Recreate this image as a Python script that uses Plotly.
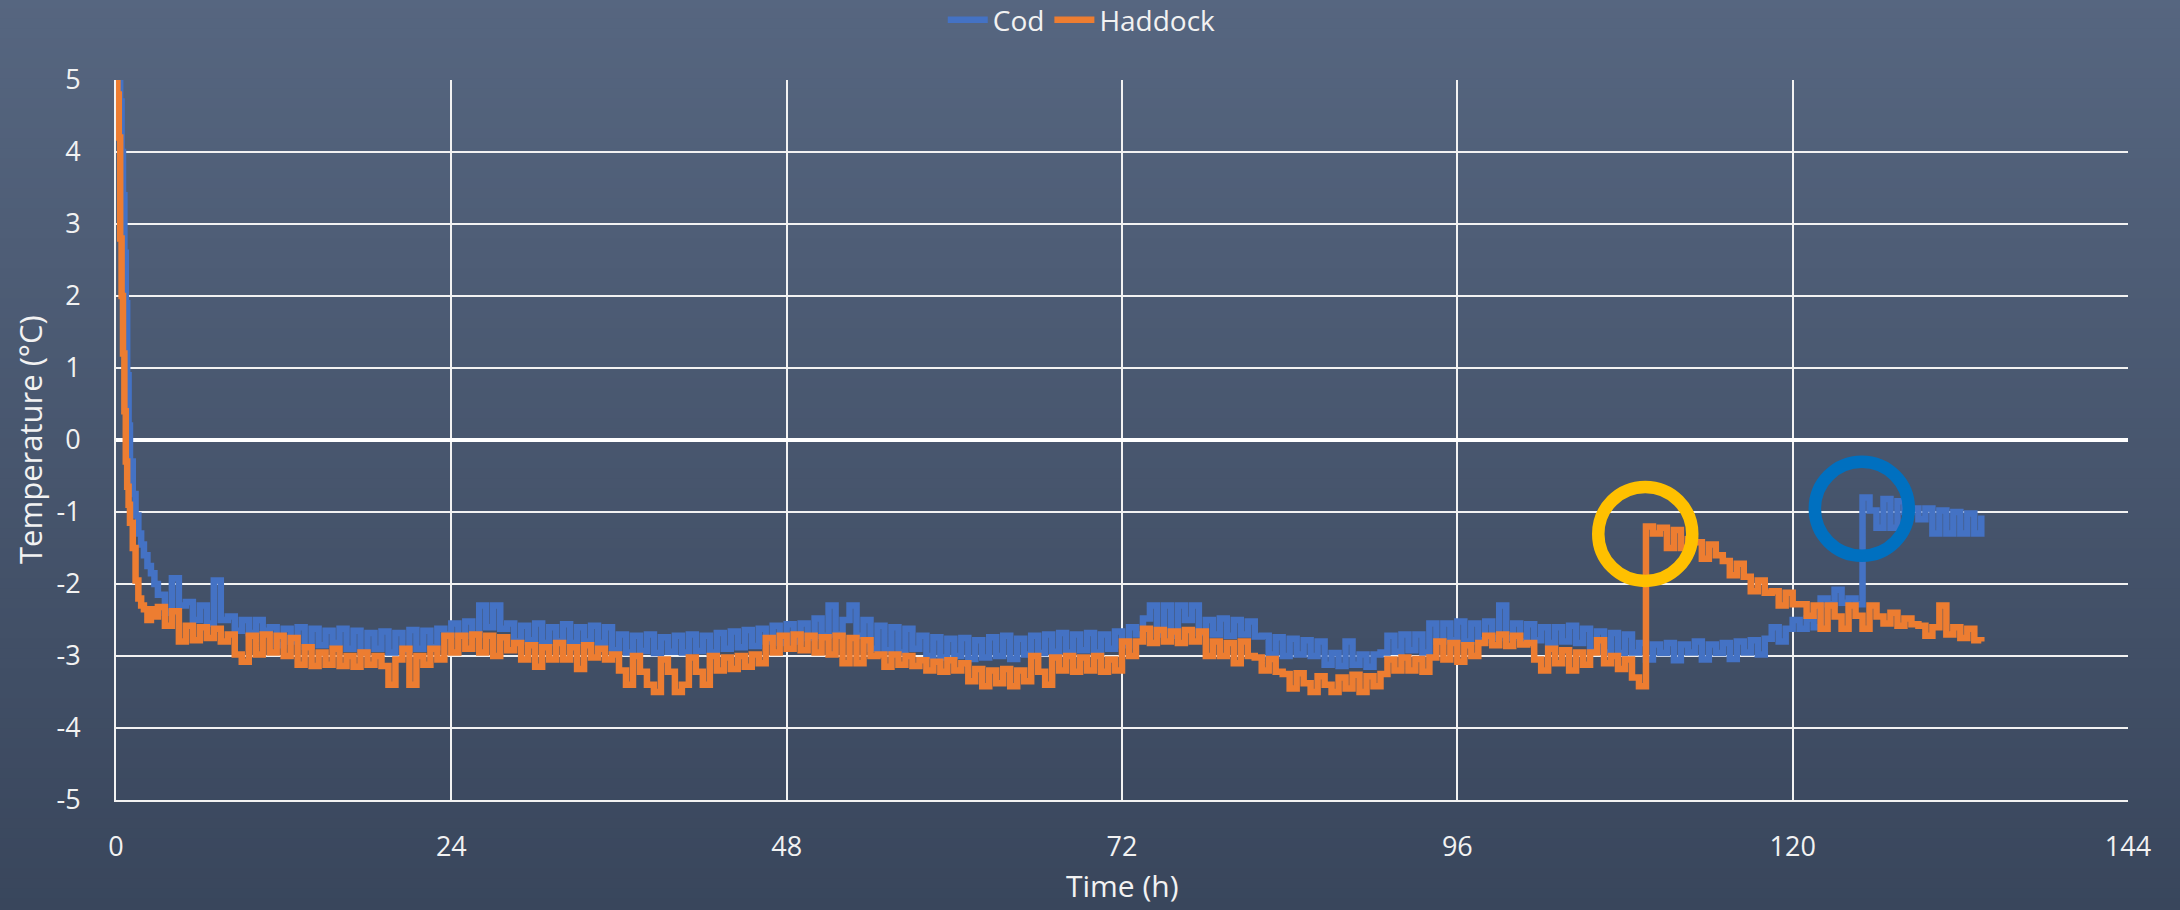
import plotly.graph_objects as go

# ---- logged data -------------------------------------------------------
# fine sampling through the initial pull-down, then half-hour readings
hours_head = [0.0, 0.1, 0.2, 0.3, 0.4, 0.5, 0.6, 0.7, 0.8, 0.9, 1.0,
              1.2, 1.4, 1.6, 1.8, 2.0, 2.25, 2.5, 2.75]
hours_logged = [3.0 + 0.5 * i for i in range(262)]
hours = hours_head + hours_logged

cod_head = [5.3, 5.2, 5.05, 4.7, 4.0, 3.4, 2.6, 1.9, 0.9, 0.2, -0.3,
            -0.75, -1.05, -1.3, -1.45, -1.6, -1.75, -1.85, -2.0]
cod_logged = [
    -2.15, -2.4, -1.92, -2.3,                                   # 3.0-4.5
    -2.25, -2.5, -2.3, -2.55, -1.95, -2.5,                      # 5.0-7.5
    -2.45, -2.65, -2.5, -2.68, -2.5, -2.65,                     # 8.0-10.5
    -2.6, -2.85, -2.62, -2.8, -2.6, -2.87, -2.62, -2.85, -2.65, -2.82, -2.62,
    -2.9, -2.65, -2.95, -2.68, -2.9, -2.66, -2.95, -2.68, -2.92, -2.64, -2.9,
    -2.65, -2.88, -2.62,
    -2.7, -2.55, -2.72, -2.52, -2.7,                            # 23.5-25.5
    -2.3, -2.6, -2.3, -2.62,                                    # 26-27.5
    -2.55, -2.8, -2.58, -2.78, -2.55, -2.82, -2.6, -2.8, -2.56, -2.82, -2.6,
    -2.8, -2.58, -2.82, -2.6,
    -2.92, -2.7, -2.95, -2.72, -2.93, -2.7, -2.96, -2.74, -2.94, -2.72, -2.95,
    -2.7, -2.93, -2.72, -2.95, -2.68, -2.9, -2.66, -2.88, -2.64, -2.86, -2.62,
    -2.8,
    -2.58, -2.82, -2.56, -2.8, -2.55,                           # 47-49
    -2.75, -2.48, -2.72, -2.3, -2.7, -2.5, -2.3, -2.72, -2.5,   # 49.5-53.5
    -2.9, -2.58, -2.92, -2.6, -2.95, -2.62, -2.9,               # 54-57
    -2.72, -3.0, -2.74, -3.02, -2.76, -3.0, -2.75, -3.04, -2.78, -3.02, -2.74,
    -3.0, -2.72, -3.04, -2.76, -2.98, -2.72, -2.96, -2.7,
    -2.94, -2.68, -2.95, -2.7, -2.92, -2.68, -2.95, -2.7, -2.9, -2.66,
    -2.85, -2.6,                                                # 72-72.5
    -2.7, -2.48, -2.3, -2.7, -2.3, -2.72, -2.3, -2.5, -2.3, -2.68, -2.5, -2.7,
    -2.48, -2.72, -2.5, -2.7, -2.52, -2.73,
    -2.72, -2.98, -2.74, -3.0, -2.76, -2.98, -2.78, -3.0, -2.8,  # 82-86
    -3.12, -2.96, -3.14, -2.8, -3.12, -2.98, -3.15, -2.98,      # 86.5-90
    -2.95, -2.72, -2.94, -2.7, -2.92, -2.7, -2.95,              # 90.5-93.5
    -2.55, -2.8, -2.55, -2.78, -2.52, -2.8, -2.55, -2.78, -2.52, -2.75, -2.3,
    -2.75, -2.55, -2.8, -2.56, -2.78, -2.6, -2.82, -2.6, -2.8, -2.58, -2.82,
    -2.62,
    -2.94, -2.66, -2.95, -2.68, -2.96, -2.7,                    # 105.5-108
    -2.95, -2.82, -3.05, -2.84, -2.96, -2.82, -3.06, -2.84, -2.95, -2.8,
    -3.05, -2.84, -2.96, -2.82, -3.04, -2.8, -2.95, -2.78, -2.98, -2.76,
    -2.6, -2.8, -2.62,                                          # 118.5-119.5
    -2.5, -2.62, -2.48, -2.6,                                   # 120-121.5
    -2.2, -2.28, -2.08, -2.26, -2.2, -2.28,                     # 122-124.5
    -0.8, -0.98, -1.22, -0.82, -1.22, -0.85, -1.0,              # 125-128
    -0.95, -1.1, -0.95, -1.3, -0.98, -1.3, -1.0, -1.3, -1.02, -1.3, -1.05,
]

haddock_head = [5.2, 4.8, 4.2, 2.8, 2.0, 1.2, 0.4, -0.3, -0.65, -0.9, -1.15,
                -1.5, -1.95, -2.2, -2.3, -2.35, -2.5, -2.35, -2.45]
haddock_logged = [
    -2.32, -2.58, -2.38, -2.8,                                  # 3.0-4.5
    -2.58, -2.78, -2.6, -2.75, -2.62, -2.8,                     # 5-7.5
    -2.7, -2.98, -3.08, -2.72, -2.98, -2.7, -2.95, -2.72, -3.0, -2.75,
    -3.12, -2.88, -3.14, -2.95, -3.12, -2.9, -3.14, -3.0, -3.15, -2.95, -3.12,
    -3.0, -3.14, -3.4, -3.05, -2.9, -3.4, -3.0, -3.12, -2.9, -3.05,
    -2.72, -2.95, -2.72, -2.9, -2.7, -2.95, -2.72, -3.0, -2.74, -2.92,
    -2.82, -3.05, -2.85, -3.15, -2.88, -3.05, -2.82, -3.05, -2.88, -3.18,
    -2.85, -3.02, -2.9, -3.05,
    -2.98, -3.2, -3.4, -3.0, -3.22, -3.4, -3.5, -3.05, -3.22, -3.5, -3.4,
    -3.02, -3.22, -3.4, -3.0, -3.2, -3.02, -3.18, -3.0, -3.15, -2.98,
    -3.1, -2.75, -2.95, -2.72, -2.9, -2.7, -2.92, -2.72, -2.95, -2.74,
    -2.98, -2.72, -3.1, -2.75, -3.1, -2.78, -3.0,               # 51-54
    -2.98, -3.15, -2.98, -3.12, -3.0, -3.14,                    # 54.5-57
    -3.06, -3.2, -3.08, -3.22, -3.06, -3.2, -3.1,               # 57.5-60.5
    -3.35, -3.18, -3.42, -3.2, -3.38, -3.18, -3.42, -3.2, -3.35,
    -3.0, -3.22, -3.4, -3.02, -3.2, -3.0, -3.22, -3.02, -3.2, -3.0, -3.22,
    -3.05, -3.2,
    -2.8, -3.0, -2.8,                                           # 72-73
    -2.62, -2.82, -2.64, -2.8, -2.66, -2.82, -2.64, -2.8, -2.66, -3.0,
    -2.8, -3.0, -2.82, -3.1, -2.8, -3.0,                        # 78.5-81
    -3.02, -3.2, -3.04, -3.22,                                  # 81.5-83
    -3.25, -3.45, -3.24, -3.38, -3.5, -3.28, -3.4, -3.5, -3.3, -3.45, -3.26,
    -3.5, -3.28, -3.42, -3.25,
    -3.05, -3.2, -3.02, -3.2, -3.04, -3.22, -3.02,              # 91-94
    -2.8, -3.05, -2.82, -3.08, -2.85, -3.0, -2.82,              # 94.5-97.5
    -2.72, -2.85, -2.7, -2.86, -2.72, -2.84,                    # 98-100.5
    -2.82, -3.05, -3.2, -2.9, -3.1, -2.92, -3.2, -2.95, -3.12, -2.95, -2.78,
    -3.1, -3.0, -3.18, -3.05,
    -3.3, -3.42,                                                # 108.5-109
    -1.2, -1.3, -1.22, -1.5, -1.25, -1.5,                       # 109.5-112
    -1.38,
    -1.42, -1.65, -1.45, -1.6,                                  # 113-114.5
    -1.68, -1.88, -1.72,                                        # 115-116
    -1.9, -2.1, -1.95, -2.12,                                   # 116.5-118
    -2.1, -2.3, -2.12, -2.28,                                   # 118.5-120
    -2.28, -2.44, -2.3, -2.62, -2.3, -2.45, -2.62, -2.3, -2.44, -2.62, -2.3,
    -2.45, -2.55, -2.4, -2.58, -2.48, -2.56,                    # 126-128.5
    -2.58, -2.72, -2.6, -2.3, -2.7, -2.6, -2.75, -2.62, -2.78, -2.8,
]

cod = cod_head + cod_logged
haddock = haddock_head + haddock_logged
assert len(cod) == len(hours) and len(haddock) == len(hours)

x_ticks = [0, 24, 48, 72, 96, 120, 144]
y_ticks = [-5, -4, -3, -2, -1, 0, 1, 2, 3, 4, 5]

# ---- styling ------------------------------------------------------------
FONT = "Open Sans, Noto Sans, DejaVu Sans, sans-serif"
TXT = "#F2F2F2"
W, H = 2180, 910
L, R, T, B = 116, 52, 80, 110

fig = go.Figure()
fig.add_trace(go.Scatter(x=hours, y=cod, name="Cod", mode="lines",
                         line=dict(color="#4472C4", width=6.5, shape="hv")))
fig.add_trace(go.Scatter(x=hours, y=haddock, name="Haddock", mode="lines",
                         line=dict(color="#ED7D31", width=6.5, shape="hv")))

# vertical background gradient (slate blue, darker towards the bottom)
top_rgb = (86, 102, 128)
bot_rgb = (57, 70, 92)
plot_h = H - T - B
shapes = []
bands = 91
for k in range(bands):
    y0 = k * H / bands
    y1 = (k + 1) * H / bands
    f = (k + 0.5) / bands
    c = tuple(round(a + (b - a) * f) for a, b in zip(top_rgb, bot_rgb))
    shapes.append(dict(type="rect", xref="paper", yref="paper", layer="below",
                       x0=-0.2, x1=1.2,
                       y0=(H - B - y1) / plot_h, y1=(H - B - y0) / plot_h + 0.002,
                       fillcolor="rgb(%d,%d,%d)" % c, line=dict(width=0)))


# rings around the sudden warm-up of each series
def jump_ring(values, color):
    i = next(j for j in range(len(hours_head) + 1, len(values))
             if values[j] - values[j - 1] > 1.0)
    cy = sum(values[i:i + 4]) / 4
    return dict(type="circle", xref="x", yref="y", layer="above",
                xsizemode="pixel", ysizemode="pixel",
                xanchor=hours[i] - 0.05, yanchor=cy,
                x0=-47, x1=47, y0=-47, y1=47,
                line=dict(color=color, width=12.5))


shapes.append(jump_ring(haddock, "#FFC000"))
shapes.append(jump_ring(cod, "#0070C0"))

fig.update_layout(
    width=W, height=H,
    margin=dict(l=L, r=R, t=T, b=B),
    paper_bgcolor="#485770",
    plot_bgcolor="rgba(0,0,0,0)",
    font=dict(family=FONT, color=TXT, size=27),
    shapes=shapes,
    showlegend=True,
    legend=dict(orientation="h", xref="paper", yref="container",
                x=0.48, xanchor="center", y=1 - 20 / H, yanchor="middle",
                font=dict(size=28, color=TXT), bgcolor="rgba(0,0,0,0)",
                itemwidth=40, tracegroupgap=0),
    xaxis=dict(range=[0, 144], tickvals=x_ticks,
               ticktext=[str(v) for v in x_ticks],
               showgrid=True, gridcolor="#F2F2F2", gridwidth=2,
               showline=True, linecolor="#F2F2F2", linewidth=2,
               zeroline=False, ticks="", ticklabelstandoff=22,
               tickfont=dict(size=27, color=TXT)),
    yaxis=dict(range=[-5, 5], tickvals=y_ticks,
               ticktext=[str(v) for v in y_ticks],
               showgrid=True, gridcolor="#F2F2F2", gridwidth=2,
               showline=True, linecolor="#F2F2F2", linewidth=2,
               zeroline=True, zerolinecolor="#FFFFFF", zerolinewidth=4,
               ticks="", ticklabelstandoff=28,
               tickfont=dict(size=27, color=TXT)),
    annotations=[
        dict(text="Time (h)", xref="paper", yref="paper",
             x=0.5, y=(H - B - 885) / plot_h, xanchor="center", yanchor="middle",
             showarrow=False, font=dict(size=30, color=TXT)),
        dict(text="Temperature (°C)", xref="paper", yref="paper",
             x=(30 - L) / (W - L - R), y=0.5, xanchor="center", yanchor="middle",
             textangle=-90, showarrow=False, font=dict(size=31, color=TXT)),
    ],
)

fig.write_html("out.html")
